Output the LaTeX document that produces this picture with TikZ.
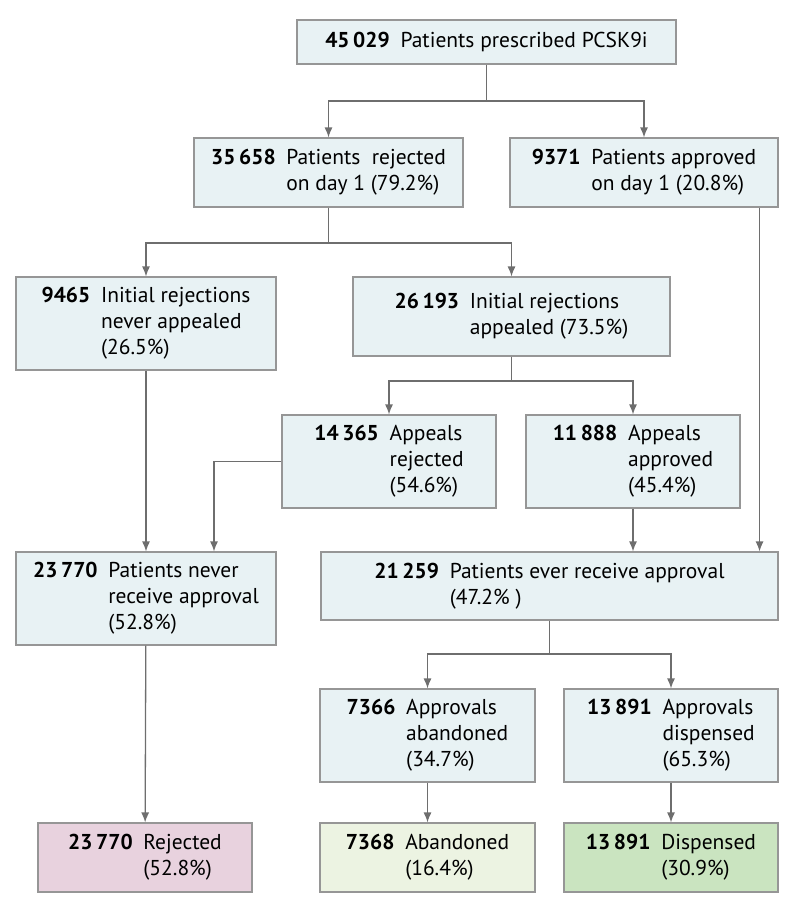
\documentclass[tikz,border=0pt]{standalone}
\usepackage{fontspec}
\setmainfont{PT Sans}
\usetikzlibrary{arrows.meta}

\definecolor{boxfill}{RGB}{232,242,244}
\definecolor{boxline}{RGB}{150,150,150}
\definecolor{linegray}{RGB}{110,110,110}
\definecolor{rejfill}{RGB}{232,210,222}
\definecolor{abfill}{RGB}{236,243,226}
\definecolor{dispfill}{RGB}{202,228,192}

\newcommand{\flowtext}[2]{\textbf{#1}\enspace\begin{tabular}[t]{@{}l@{}}#2\end{tabular}}
\renewcommand{\arraystretch}{1}

\begin{document}
\begin{tikzpicture}[x=1pt,y=-1pt]
\tikzset{box/.style = {draw=boxline, line width=1.1pt, fill=boxfill, inner sep=0pt,
  font=\fontsize{21.5}{26}\selectfont, text=black}}
\tikzset{edge/.style = {draw=linegray, line width=1.3pt, -{Latex[length=10pt,width=8pt]}}}
\tikzset{link/.style = {draw=linegray, line width=1.3pt}}
\useasboundingbox (0,0) rectangle (794,913);
% first split
\node[box, minimum width=379pt, minimum height=44pt](presc) at (486.5, 42) {\flowtext{45\,029}{Patients prescribed PCSK9i}};
\node[box, minimum width=269pt, minimum height=69pt](rej1) at (328.5, 172.5) {\flowtext{35\,658}{Patients\ \ rejected\\on day 1 (79.2\%)}};
\node[box, minimum width=268pt, minimum height=69pt](app1) at (644, 172.5) {\flowtext{9371}{Patients approved\\on day 1 (20.8\%)}};
% rejections
\node[box, minimum width=260pt, minimum height=93pt](noappeal) at (146, 323.5) {\flowtext{9465}{Initial rejections\\never appealed\\(26.5\%)}};
\node[box, minimum width=317pt, minimum height=79pt](appeal) at (511.5, 316.5) {\flowtext{26\,193}{Initial rejections\\appealed (73.5\%)}};
\node[box, minimum width=214pt, minimum height=93pt](arej) at (389, 461.5) {\flowtext{14\,365}{Appeals\\rejected\\(54.6\%)}};
\node[box, minimum width=214pt, minimum height=93pt](aapp) at (633, 461.5) {\flowtext{11\,888}{Appeals\\approved\\(45.4\%)}};
% ever / never
\node[box, minimum width=260pt, minimum height=93pt](neverapp) at (146, 598.5) {\flowtext{23\,770}{Patients never\\receive approval\\(52.8\%)}};
\node[box, minimum width=457pt, minimum height=68pt](everapp) at (549.5, 586) {\flowtext{21\,259}{Patients ever receive approval\\(47.2\% )}};
\node[box, minimum width=215pt, minimum height=93pt](aband) at (427.5, 735.5) {\flowtext{7366}{Approvals\\abandoned\\(34.7\%)}};
\node[box, minimum width=214pt, minimum height=93pt](disp) at (671, 735.5) {\flowtext{13\,891}{Approvals\\dispensed\\(65.3\%)}};
% outcomes
\node[box, fill=rejfill, minimum width=214pt, minimum height=69pt](rejected) at (145, 857.5) {\flowtext{23\,770}{Rejected\\(52.8\%)}};
\node[box, fill=abfill, minimum width=215pt, minimum height=69pt](abandoned) at (427.5, 857.5) {\flowtext{7368}{Abandoned\\(16.4\%)}};
\node[box, fill=dispfill, minimum width=214pt, minimum height=69pt](dispensed) at (671, 857.5) {\flowtext{13\,891}{Dispensed\\(30.9\%)}};
% junctions
\coordinate (j1) at (486.5, 101);
\coordinate (j2) at (328.5, 243);
\coordinate (j3) at (511.5, 381);
\coordinate (j4) at (549.5, 654);
\draw[link] (presc) -- (j1);
\draw[edge] (j1) -| (rej1);
\draw[edge] (j1) -| (app1);
\draw[link] (rej1) -- (j2);
\draw[edge] (j2) -| (noappeal);
\draw[edge] (j2) -| (appeal);
\draw[link] (appeal) -- (j3);
\draw[edge] (j3) -| (arej);
\draw[edge] (j3) -| (aapp);
\draw[edge] (noappeal) -- (neverapp);
\draw[edge] (arej.west) -| ([xshift=68pt]neverapp.north);
\draw[edge] (aapp) -- (aapp |- everapp.north);
\draw[edge] ([xshift=-19pt]app1.south east) -- ([xshift=-19pt]everapp.north east);
\draw[link] (everapp) -- (j4);
\draw[edge] (j4) -| (aband);
\draw[edge] (j4) -| (disp);
\draw[edge] (neverapp) -- (rejected);
\draw[edge] (aband) -- (abandoned);
\draw[edge] (disp) -- (dispensed);
\end{tikzpicture}
\end{document}
